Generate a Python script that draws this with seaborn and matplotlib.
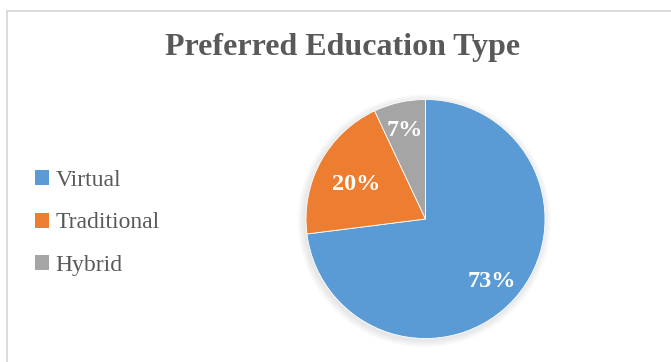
import matplotlib
matplotlib.use("Agg")
import matplotlib.pyplot as plt
from matplotlib.patches import Rectangle, Circle
import numpy as np
import seaborn as sns

# Survey results
categories = ["Virtual", "Traditional", "Hybrid"]
shares = [73, 20, 7]
title = "Preferred Education Type"

sns.set_theme(style="white")
plt.rcParams["font.family"] = ["Liberation Serif", "DejaVu Serif"]

palette = sns.color_palette(["#5B9BD5", "#ED7D31", "#A5A5A5"])
text_grey = "#595959"

W, H = 671, 362
dpi = 100
fig = plt.figure(figsize=(W / dpi, H / dpi), dpi=dpi)
fig.patch.set_facecolor("white")

# Chart-area frame (left and top edges visible)
fig.patches.append(Rectangle((6.5 / W, -0.1), 1.2, (H - 10.5) / H + 0.1,
                             transform=fig.transFigure, fill=False,
                             edgecolor="#D9D9D9", linewidth=1.3))

fig.text(343 / W, 1 - 48 / H, title, ha="center", va="center",
         fontsize=23, fontweight="bold", color=text_grey)

# Pie axes positioned in pixels
cx, cy, r = 425.5, 219.0, 119.5
ax = fig.add_axes([(cx - r) / W, (H - cy - r) / H, 2 * r / W, 2 * r / H])

wedges, _ = ax.pie(shares, colors=palette, startangle=90, counterclock=False,
                   radius=1.0, wedgeprops=dict(linewidth=0.6, edgecolor="white"))
ax.set_xlim(-1, 1)
ax.set_ylim(-1, 1)
ax.set_aspect("equal")
ax.axis("off")
for w in wedges:
    w.set_zorder(2)
    w.set_clip_on(False)

# Soft shadow behind the pie
for k in range(6):
    sh = Circle((-0.01, -0.015), 1.0 + 0.01 * (k + 1), color="black",
                alpha=0.015, lw=0, zorder=0)
    sh.set_clip_on(False)
    ax.add_patch(sh)

label_dist = [0.74, 0.66, 0.79]
for w, val, d in zip(wedges, shares, label_dist):
    mid = np.deg2rad((w.theta1 + w.theta2) / 2)
    ax.text(d * np.cos(mid), d * np.sin(mid) - 0.03, f"{val}%", ha="center",
            va="center", fontsize=17.5, fontweight="bold", color="white", zorder=3)

# Legend on the left
handles = [Rectangle((0, 0), 1, 1, facecolor=c, edgecolor="none") for c in palette]
leg = fig.legend(handles, categories, loc="center left",
                 bbox_to_anchor=(14 / W, 1 - 223 / H), frameon=False,
                 fontsize=17, handlelength=0.6, handleheight=0.6,
                 handletextpad=0.25, labelspacing=0.92, labelcolor=text_grey)

fig.savefig("out.png", dpi=dpi, facecolor="white")
